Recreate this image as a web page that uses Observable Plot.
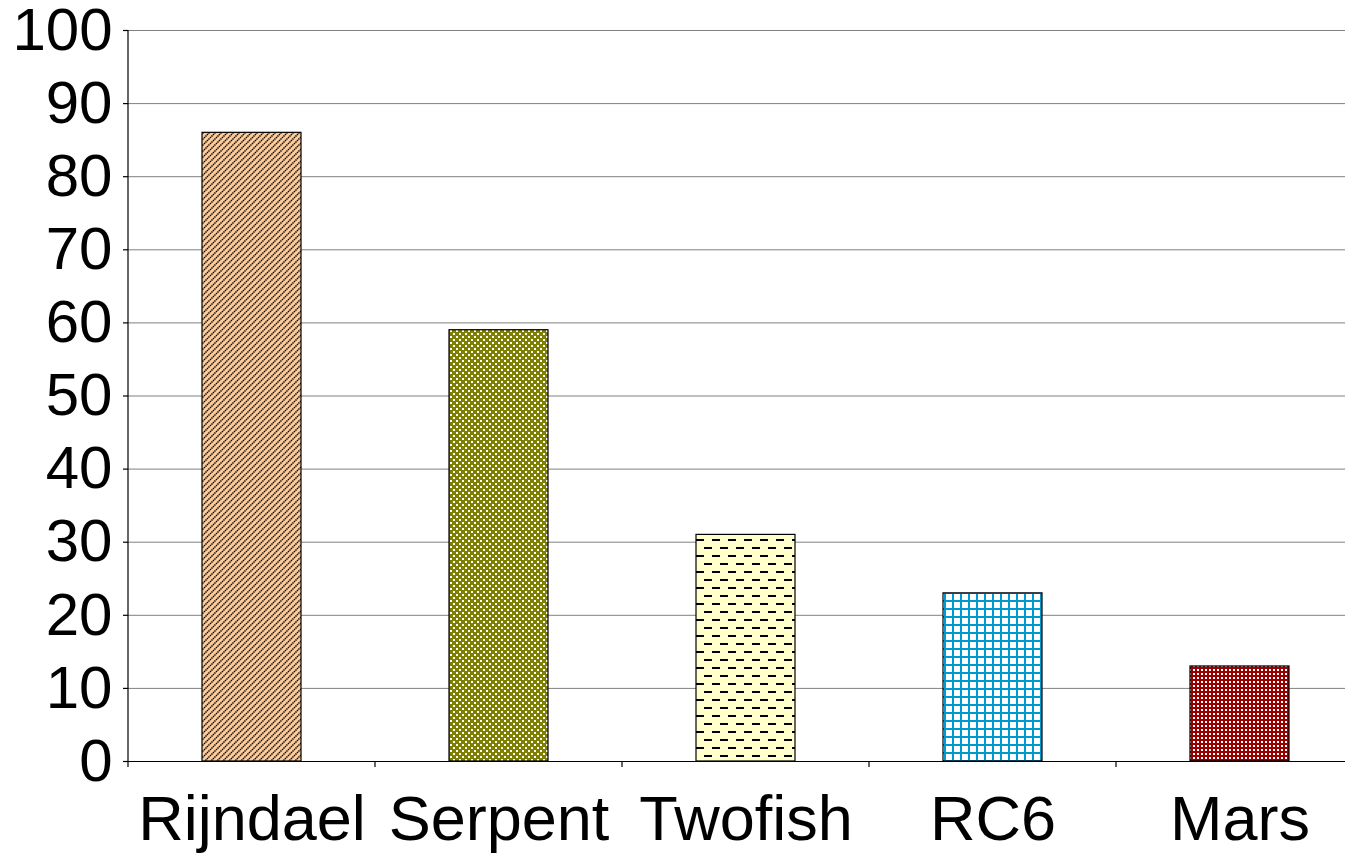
<!DOCTYPE html>
<html>
<head>
<meta charset="utf-8">
<script src="https://cdn.jsdelivr.net/npm/d3@7"></script>
<script src="https://cdn.jsdelivr.net/npm/@observablehq/plot@0.6"></script>
<style>
  html, body { margin: 0; padding: 0; background: #fff; overflow: hidden; }
  #chart svg { display: block; max-width: none !important; }
  pattern rect { shape-rendering: crispEdges; }
</style>
</head>
<body>
<div id="chart"></div>
<script>
const categories = ["Rijndael", "Serpent", "Twofish", "RC6", "Mars"];
const values = [86, 59, 31, 23, 13];
const yTicks = [0, 10, 20, 30, 40, 50, 60, 70, 80, 90, 100];

const patternIds = {
  Rijndael: "p-rijndael",
  Serpent: "p-serpent",
  Twofish: "p-twofish",
  RC6: "p-rc6",
  Mars: "p-mars"
};

const data = categories.map((name, i) => ({name, value: values[i]}));

const font = "Arial, 'Liberation Sans', sans-serif";

const chart = Plot.plot({
  width: 1363,
  height: 855,
  marginLeft: 128,
  marginRight: 0,
  marginTop: 30,
  marginBottom: 94,
  style: {fontFamily: font, background: "#fff", maxWidth: "none", overflow: "visible"},
  x: {domain: categories, paddingInner: 0.6, paddingOuter: 0.3, label: null},
  y: {domain: [0, 100], label: null},
  color: {type: "identity"},
  marks: [
    Plot.ruleY(yTicks.filter(d => d > 0), {stroke: "#808080", strokeWidth: 1}),
    Plot.barY(data, {
      x: "name",
      y: "value",
      fill: d => `url(#${patternIds[d.name]})`,
      stroke: "#000",
      strokeWidth: 1.2
    }),
    Plot.axisY({ticks: yTicks, tickSize: 5, tickPadding: 11, fontSize: 60, stroke: "#000", strokeWidth: 1.2, label: null}),
    Plot.axisX({tickSize: 0, tickPadding: 34, fontSize: 63, label: null}),
    Plot.ruleY([0], {stroke: "#000", strokeWidth: 1.2})
  ]
});

document.getElementById("chart").appendChild(chart);

const svg = d3.select(chart);
const xs = chart.scale("x");
const ys = chart.scale("y");
const step = xs.step;
const x0 = xs.range[0];
const yBase = ys.apply(0);
const yTop = ys.apply(100);

const g = svg.append("g").attr("stroke", "#000").attr("stroke-width", 1.2);
g.append("line").attr("x1", x0).attr("x2", x0).attr("y1", yTop).attr("y2", yBase);
for (let i = 0; i <= categories.length; i++) {
  const x = x0 + i * step;
  g.append("line").attr("x1", x).attr("x2", x).attr("y1", yBase).attr("y2", yBase + 6);
}

const defs = svg.insert("defs", ":first-child");

// Rijndael: peach with black diagonal lines
let p = defs.append("pattern").attr("id", "p-rijndael").attr("patternUnits", "userSpaceOnUse")
  .attr("width", 6).attr("height", 6);
p.append("rect").attr("width", 6).attr("height", 6).attr("fill", "#FFCC99");
p.append("path").attr("d", "M0,6 L6,0 M-1,1 L1,-1 M5,7 L7,5")
  .attr("stroke", "#000").attr("stroke-width", 1.5).attr("stroke-dasharray", "1.4,0.7");

// Serpent: olive with offset white squares
p = defs.append("pattern").attr("id", "p-serpent").attr("patternUnits", "userSpaceOnUse")
  .attr("width", 6).attr("height", 6);
p.append("rect").attr("width", 6).attr("height", 6).attr("fill", "#808000");
p.append("rect").attr("x", 0).attr("y", 0).attr("width", 2).attr("height", 2).attr("fill", "#fff");
p.append("rect").attr("x", 3).attr("y", 3).attr("width", 2).attr("height", 2).attr("fill", "#fff");

// Twofish: light yellow with staggered dashes
p = defs.append("pattern").attr("id", "p-twofish").attr("patternUnits", "userSpaceOnUse")
  .attr("width", 16).attr("height", 16);
p.append("rect").attr("width", 16).attr("height", 16).attr("fill", "#FFFFCC");
p.append("rect").attr("x", 0).attr("y", 3).attr("width", 8).attr("height", 2).attr("fill", "#000");
p.append("rect").attr("x", 8).attr("y", 11).attr("width", 8).attr("height", 2).attr("fill", "#000");

// RC6: white with blue grid
p = defs.append("pattern").attr("id", "p-rc6").attr("patternUnits", "userSpaceOnUse")
  .attr("width", 8).attr("height", 8);
p.append("rect").attr("width", 8).attr("height", 8).attr("fill", "#fff");
p.append("rect").attr("x", 0).attr("y", 0).attr("width", 2).attr("height", 8).attr("fill", "#0099CC");
p.append("rect").attr("x", 0).attr("y", 0).attr("width", 8).attr("height", 2).attr("fill", "#0099CC");

// Mars: dark red with white dots
p = defs.append("pattern").attr("id", "p-mars").attr("patternUnits", "userSpaceOnUse")
  .attr("width", 4).attr("height", 4);
p.append("rect").attr("width", 4).attr("height", 4).attr("fill", "#990000");
p.append("rect").attr("x", 1).attr("y", 1).attr("width", 2).attr("height", 2).attr("fill", "#fff");

svg.selectAll("text").attr("fill", "#000");
</script>
</body>
</html>
